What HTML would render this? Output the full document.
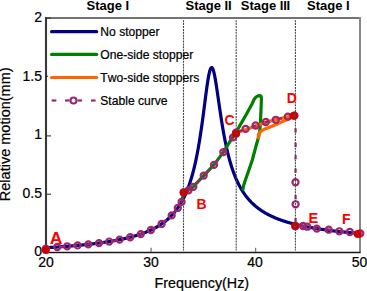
<!DOCTYPE html>
<html><head><meta charset="utf-8"><style>
html,body{margin:0;padding:0;background:#fff;width:367px;height:291px;overflow:hidden}
svg{display:block}
text{font-family:"Liberation Sans",sans-serif;font-kerning:none}
.t{stroke:#000;stroke-width:0.22px}
</style></head><body>
<svg width="367" height="291" viewBox="0 0 367 291">
<rect width="367" height="291" fill="#fff"/>
<line x1="46" y1="18" x2="361" y2="18" stroke="#737373" stroke-width="2"/>
<line x1="360" y1="17" x2="360" y2="253" stroke="#888" stroke-width="2"/>
<line x1="46" y1="17" x2="46" y2="253" stroke="#383838" stroke-width="2.1"/>
<line x1="45" y1="252.5" x2="360.5" y2="252.5" stroke="#1a1a1a" stroke-width="1.3"/>
<g fill="none" stroke-width="3.2" stroke-linejoin="round">
<polyline points="46.00,247.71 46.52,247.68 47.05,247.65 47.57,247.62 48.09,247.59 48.61,247.56 49.14,247.53 49.66,247.50 50.18,247.47 50.70,247.44 51.23,247.41 51.75,247.37 52.27,247.34 52.79,247.31 53.32,247.28 53.84,247.24 54.36,247.21 54.88,247.18 55.41,247.14 55.93,247.11 56.45,247.07 56.97,247.04 57.50,247.00 58.02,246.97 58.54,246.93 59.06,246.90 59.59,246.86 60.11,246.83 60.63,246.79 61.15,246.75 61.68,246.71 62.20,246.68 62.72,246.64 63.24,246.60 63.77,246.56 64.29,246.52 64.81,246.49 65.33,246.45 65.86,246.41 66.38,246.37 66.90,246.33 67.42,246.29 67.95,246.24 68.47,246.20 68.99,246.16 69.51,246.12 70.04,246.08 70.56,246.04 71.08,245.99 71.60,245.95 72.13,245.91 72.65,245.86 73.17,245.82 73.69,245.77 74.22,245.73 74.74,245.68 75.26,245.64 75.78,245.59 76.31,245.54 76.83,245.50 77.35,245.45 77.87,245.40 78.40,245.35 78.92,245.30 79.44,245.25 79.96,245.20 80.49,245.15 81.01,245.10 81.53,245.05 82.05,245.00 82.58,244.95 83.10,244.90 83.62,244.85 84.14,244.79 84.67,244.74 85.19,244.68 85.71,244.63 86.23,244.57 86.76,244.52 87.28,244.46 87.80,244.41 88.32,244.35 88.85,244.29 89.37,244.23 89.89,244.18 90.41,244.12 90.94,244.06 91.46,244.00 91.98,243.94 92.50,243.87 93.03,243.81 93.55,243.75 94.07,243.69 94.59,243.62 95.12,243.56 95.64,243.49 96.16,243.43 96.68,243.36 97.21,243.29 97.73,243.23 98.25,243.16 98.77,243.09 99.30,243.02 99.82,242.95 100.34,242.88 100.86,242.81 101.39,242.73 101.91,242.66 102.43,242.59 102.95,242.51 103.48,242.44 104.00,242.36 104.52,242.28 105.04,242.21 105.57,242.13 106.09,242.05 106.61,241.97 107.13,241.89 107.66,241.81 108.18,241.72 108.70,241.64 109.22,241.56 109.75,241.47 110.27,241.38 110.79,241.30 111.31,241.21 111.84,241.12 112.36,241.03 112.88,240.94 113.40,240.85 113.93,240.75 114.45,240.66 114.97,240.56 115.49,240.47 116.02,240.37 116.54,240.27 117.06,240.17 117.58,240.07 118.11,239.97 118.63,239.87 119.15,239.76 119.67,239.66 120.20,239.55 120.72,239.44 121.24,239.33 121.76,239.22 122.29,239.11 122.81,239.00 123.33,238.88 123.85,238.77 124.38,238.65 124.90,238.53 125.42,238.41 125.94,238.29 126.47,238.17 126.99,238.04 127.51,237.92 128.03,237.79 128.56,237.66 129.08,237.53 129.60,237.39 130.12,237.26 130.65,237.12 131.17,236.98 131.69,236.84 132.21,236.70 132.74,236.56 133.26,236.41 133.78,236.26 134.30,236.11 134.83,235.96 135.35,235.81 135.87,235.65 136.39,235.49 136.92,235.33 137.44,235.17 137.96,235.01 138.48,234.84 139.01,234.67 139.53,234.50 140.05,234.32 140.57,234.14 141.10,233.96 141.62,233.78 142.14,233.60 142.66,233.41 143.19,233.22 143.71,233.02 144.23,232.82 144.75,232.62 145.28,232.42 145.80,232.21 146.32,232.00 146.84,231.79 147.37,231.57 147.89,231.35 148.41,231.13 148.93,230.90 149.46,230.67 149.98,230.44 150.50,230.20 151.02,229.95 151.55,229.71 152.07,229.45 152.59,229.20 153.11,228.94 153.64,228.67 154.16,228.40 154.68,228.13 155.20,227.85 155.73,227.56 156.25,227.27 156.77,226.98 157.29,226.68 157.82,226.37 158.34,226.06 158.86,225.74 159.38,225.41 159.91,225.08 160.43,224.74 160.95,224.40 161.47,224.05 162.00,223.69 162.52,223.32 163.04,222.95 163.56,222.57 164.09,222.18 164.61,221.78 165.13,221.37 165.65,220.96 166.18,220.54 166.70,220.10 167.22,219.66 167.74,219.21 168.27,218.74 168.79,218.27 169.31,217.78 169.83,217.28 170.36,216.78 170.88,216.25 171.40,215.72 171.92,215.17 172.45,214.61 172.97,214.04 173.49,213.45 174.01,212.85 174.54,212.23 175.06,211.59 175.58,210.94 176.10,210.26 176.63,209.58 177.15,208.87 177.67,208.14 178.19,207.39 178.72,206.62 179.24,205.83 179.76,205.01 180.28,204.17 180.81,203.31 181.33,202.42 181.85,201.50 182.37,200.55 182.90,199.57 183.42,198.57 183.94,197.53 184.46,196.45 184.99,195.34 185.51,194.19 186.03,193.01 186.55,191.78 187.08,190.51 187.60,189.19 188.12,187.83 188.64,186.42 189.17,184.95 189.69,183.44 190.21,181.86 190.73,180.23 191.26,178.53 191.78,176.77 192.30,174.94 192.82,173.03 193.35,171.05 193.87,168.99 194.39,166.85 194.91,164.62 195.44,162.30 195.96,159.89 196.48,157.38 197.00,154.76 197.53,152.04 198.05,149.21 198.57,146.27 199.09,143.21 199.62,140.04 200.14,136.75 200.66,133.34 201.18,129.82 201.71,126.18 202.23,122.44 202.75,118.60 203.27,114.68 203.80,110.70 204.32,106.66 204.84,102.60 205.36,98.55 205.89,94.54 206.41,90.62 206.93,86.83 207.45,83.23 207.98,79.87 208.50,76.81 209.02,74.11 209.54,71.81 210.07,69.98 210.59,68.63 211.11,67.81 211.63,67.53 212.16,67.79 212.68,68.57 213.20,69.86 213.72,71.60 214.25,73.76 214.77,76.29 215.29,79.12 215.81,82.21 216.34,85.50 216.86,88.95 217.38,92.49 217.90,96.11 218.43,99.74 218.95,103.38 219.47,106.99 219.99,110.56 220.52,114.06 221.04,117.48 221.56,120.82 222.08,124.06 222.61,127.21 223.13,130.25 223.65,133.20 224.17,136.04 224.70,138.78 225.22,141.42 225.74,143.97 226.26,146.42 226.79,148.78 227.31,151.05 227.83,153.23 228.35,155.34 228.88,157.36 229.40,159.31 229.92,161.18 230.44,162.99 230.97,164.73 231.49,166.41 232.01,168.02 232.53,169.58 233.06,171.08 233.58,172.53 234.10,173.93 234.62,175.28 235.15,176.59 235.67,177.85 236.19,179.07 236.71,180.25 237.24,181.39 237.76,182.50 238.28,183.57 238.80,184.60 239.33,185.61 239.85,186.58 240.37,187.52 240.89,188.44 241.42,189.33 241.94,190.19 242.46,191.03 242.98,191.84 243.51,192.63 244.03,193.40 244.55,194.15 245.07,194.88 245.60,195.59 246.12,196.28 246.64,196.95 247.16,197.60 247.69,198.24 248.21,198.86 248.73,199.46 249.25,200.06 249.78,200.63 250.30,201.19 250.82,201.74 251.34,202.28 251.87,202.80 252.39,203.31 252.91,203.81 253.43,204.29 253.96,204.77 254.48,205.24 255.00,205.69 255.52,206.14 256.05,206.57 256.57,207.00 257.09,207.42 257.61,207.83 258.14,208.23 258.66,208.62 259.18,209.00 259.70,209.38 260.23,209.75 260.75,210.11 261.27,210.46 261.79,210.81 262.32,211.15 262.84,211.48 263.36,211.81 263.88,212.13 264.41,212.45 264.93,212.76 265.45,213.06 265.97,213.36 266.50,213.65 267.02,213.94 267.54,214.22 268.06,214.50 268.59,214.78 269.11,215.04 269.63,215.31 270.15,215.57 270.68,215.82 271.20,216.07 271.72,216.32 272.24,216.56 272.77,216.80 273.29,217.03 273.81,217.26 274.33,217.49 274.86,217.72 275.38,217.94 275.90,218.15 276.42,218.37 276.95,218.58 277.47,218.78 277.99,218.99 278.51,219.19 279.04,219.38 279.56,219.58 280.08,219.77 280.60,219.96 281.13,220.15 281.65,220.33 282.17,220.51 282.69,220.69 283.22,220.87 283.74,221.04 284.26,221.21 284.78,221.38 285.31,221.55 285.83,221.71 286.35,221.87 286.87,222.03 287.40,222.19 287.92,222.34 288.44,222.50 288.96,222.65 289.49,222.80 290.01,222.95 290.53,223.09 291.05,223.24 291.58,223.38 292.10,223.52 292.62,223.66 293.14,223.79 293.67,223.93 294.19,224.06 294.71,224.19 295.23,224.32 295.76,224.45 296.28,224.58 296.80,224.71 297.32,224.83 297.85,224.95 298.37,225.07 298.89,225.19 299.41,225.31 299.94,225.43 300.46,225.54 300.98,225.66 301.50,225.77 302.03,225.88 302.55,225.99 303.07,226.10 303.59,226.21 304.12,226.32 304.64,226.42 305.16,226.53 305.68,226.63 306.21,226.73 306.73,226.84 307.25,226.94 307.77,227.04 308.30,227.13 308.82,227.23 309.34,227.33 309.86,227.42 310.39,227.52 310.91,227.61 311.43,227.70 311.95,227.79 312.48,227.88 313.00,227.97 313.52,228.06 314.04,228.15 314.57,228.23 315.09,228.32 315.61,228.41 316.13,228.49 316.66,228.57 317.18,228.66 317.70,228.74 318.22,228.82 318.75,228.90 319.27,228.98 319.79,229.06 320.31,229.13 320.84,229.21 321.36,229.29 321.88,229.36 322.40,229.44 322.93,229.51 323.45,229.59 323.97,229.66 324.49,229.73 325.02,229.80 325.54,229.88 326.06,229.95 326.58,230.02 327.11,230.09 327.63,230.15 328.15,230.22 328.67,230.29 329.20,230.36 329.72,230.42 330.24,230.49 330.76,230.55 331.29,230.62 331.81,230.68 332.33,230.75 332.85,230.81 333.38,230.87 333.90,230.93 334.42,230.99 334.94,231.05 335.47,231.12 335.99,231.18 336.51,231.23 337.03,231.29 337.56,231.35 338.08,231.41 338.60,231.47 339.12,231.52 339.65,231.58 340.17,231.64 340.69,231.69 341.21,231.75 341.74,231.80 342.26,231.86 342.78,231.91 343.30,231.96 343.83,232.02 344.35,232.07 344.87,232.12 345.39,232.17 345.92,232.23 346.44,232.28 346.96,232.33 347.48,232.38 348.01,232.43 348.53,232.48 349.05,232.53 349.57,232.58 350.10,232.62 350.62,232.67 351.14,232.72 351.66,232.77 352.19,232.82 352.71,232.86 353.23,232.91 353.75,232.95 354.28,233.00 354.80,233.05 355.32,233.09 355.84,233.14 356.37,233.18 356.89,233.22 357.41,233.27 357.93,233.31 358.46,233.35 358.98,233.40 359.50,233.44" stroke="#000080"/>
<polyline points="182.00,201.23 183.60,192.40 188.50,190.20 193.30,186.70 203.70,175.60 214.00,164.90 223.30,152.10 232.40,137.60 236.10,133.30 238.10,128.70 240.40,124.60 246.40,114.30 252.00,104.00 254.00,99.60 256.00,97.00 258.00,95.80 260.00,95.60 261.20,96.60 261.40,99.00 261.00,110.00 260.30,125.00 259.60,132.00 258.70,136.80 256.30,145.00 252.30,160.00 248.90,170.00 245.40,180.00 243.60,185.50 242.70,190.50" stroke="#008000"/>
<polyline points="236.00,132.60 245.80,129.60 256.00,126.00 265.60,122.40 275.90,119.60 287.80,116.80 294.30,115.50" stroke="#FF6600"/>
<polyline points="294.30,115.50 289.80,118.50 284.30,120.80 277.50,123.90 270.60,126.80 263.70,129.60 260.60,131.40 258.60,134.00 258.10,139.00" stroke="#FF6600"/>
</g>
<polyline points="45.80,248.60 57.30,247.02 67.20,246.30 77.60,245.43 88.30,244.35 99.00,243.06 109.20,241.56 119.60,239.67 130.20,237.24 140.80,234.07 150.90,230.01 161.60,223.96 171.70,215.41 177.80,207.95 181.60,201.94 183.60,192.40 188.50,190.30 193.30,186.80 203.70,175.60 214.00,164.90 223.30,152.10 233.00,137.40 236.00,132.60 245.60,128.90 255.60,125.50 265.80,122.00 275.80,119.80 287.80,116.60 294.50,115.60" fill="none" stroke="#9E266C" stroke-width="2.2" stroke-dasharray="4.5 9"/>
<polyline points="295.50,226.00 303.05,226.00 307.30,226.70 316.80,228.60 328.70,229.70 339.30,231.30 349.80,232.00 360.30,233.40" fill="none" stroke="#9E266C" stroke-width="2.2" stroke-dasharray="4.5 9" stroke-dashoffset="-4"/>
<line x1="295.6" y1="128.4" x2="295.6" y2="132.5" stroke="#9E266C" stroke-width="2.2"/>
<line x1="295.6" y1="142.8" x2="295.6" y2="147" stroke="#9E266C" stroke-width="2.2"/>
<line x1="295.6" y1="155.2" x2="295.6" y2="159.3" stroke="#9E266C" stroke-width="2.2"/>
<line x1="295.6" y1="168.6" x2="295.6" y2="172.7" stroke="#9E266C" stroke-width="2.2"/>
<line x1="295.6" y1="195" x2="295.6" y2="199.4" stroke="#9E266C" stroke-width="2.2"/>
<line x1="295.6" y1="218" x2="295.6" y2="222" stroke="#9E266C" stroke-width="2.2"/>
<g fill="none" stroke="#9E266C" stroke-width="2.2"><circle cx="45.80" cy="248.60" r="3.05"/><circle cx="57.30" cy="247.02" r="3.05"/><circle cx="67.20" cy="246.30" r="3.05"/><circle cx="77.60" cy="245.43" r="3.05"/><circle cx="88.30" cy="244.35" r="3.05"/><circle cx="99.00" cy="243.06" r="3.05"/><circle cx="109.20" cy="241.56" r="3.05"/><circle cx="119.60" cy="239.67" r="3.05"/><circle cx="130.20" cy="237.24" r="3.05"/><circle cx="140.80" cy="234.07" r="3.05"/><circle cx="150.90" cy="230.01" r="3.05"/><circle cx="161.60" cy="223.96" r="3.05"/><circle cx="171.70" cy="215.41" r="3.05"/><circle cx="177.80" cy="207.95" r="3.05"/><circle cx="181.60" cy="201.94" r="3.05"/><circle cx="183.60" cy="192.40" r="3.05"/><circle cx="188.50" cy="190.30" r="3.05"/><circle cx="193.30" cy="186.80" r="3.05"/><circle cx="203.70" cy="175.60" r="3.05"/><circle cx="214.00" cy="164.90" r="3.05"/><circle cx="223.30" cy="152.10" r="3.05"/><circle cx="233.00" cy="137.40" r="3.05"/><circle cx="236.00" cy="132.60" r="3.05"/><circle cx="245.60" cy="128.90" r="3.05"/><circle cx="255.60" cy="125.50" r="3.05"/><circle cx="265.80" cy="122.00" r="3.05"/><circle cx="275.80" cy="119.80" r="3.05"/><circle cx="287.80" cy="116.60" r="3.05"/><circle cx="294.50" cy="115.60" r="3.05"/><circle cx="295.50" cy="182.20" r="3.05"/><circle cx="295.60" cy="204.30" r="3.05"/><circle cx="295.50" cy="226.00" r="3.05"/><circle cx="303.05" cy="226.00" r="3.05"/><circle cx="307.30" cy="226.70" r="3.05"/><circle cx="316.80" cy="228.60" r="3.05"/><circle cx="328.70" cy="229.70" r="3.05"/><circle cx="339.30" cy="231.30" r="3.05"/><circle cx="349.80" cy="232.00" r="3.05"/><circle cx="360.30" cy="233.40" r="3.05"/></g>
<g fill="none" stroke="#D00000" stroke-width="3.3"><circle cx="45.80" cy="250.00" r="2.35"/><circle cx="183.70" cy="192.40" r="2.35"/><circle cx="236.10" cy="133.80" r="2.35"/><circle cx="293.80" cy="115.80" r="2.35"/><circle cx="295.10" cy="226.00" r="2.35"/><circle cx="357.80" cy="234.00" r="2.35"/></g>
<line x1="183.5" y1="20.2" x2="183.5" y2="250.4" stroke="#474747" stroke-width="1.1" stroke-dasharray="2 0.9"/>
<line x1="236.2" y1="20.2" x2="236.2" y2="250.4" stroke="#474747" stroke-width="1.1" stroke-dasharray="2 0.9"/>
<line x1="295.4" y1="20.2" x2="295.4" y2="250.4" stroke="#474747" stroke-width="1.1" stroke-dasharray="2 0.9"/>
<line x1="151.10" y1="247.8" x2="151.10" y2="252" stroke="#777" stroke-width="1.3"/>
<line x1="255.60" y1="247.8" x2="255.60" y2="252" stroke="#777" stroke-width="1.3"/>
<line x1="46" y1="194.20" x2="51" y2="194.20" stroke="#333" stroke-width="1.1"/>
<line x1="46" y1="135.90" x2="51" y2="135.90" stroke="#333" stroke-width="1.1"/>
<line x1="46" y1="18.20" x2="51" y2="18.20" stroke="#333" stroke-width="1.1"/>
<line x1="46" y1="76.3" x2="48" y2="76.3" stroke="#222" stroke-width="1.1"/>
<line x1="51.6" y1="31.7" x2="96.7" y2="31.7" stroke="#000080" stroke-width="3.2" stroke-linecap="round"/>
<line x1="51.6" y1="54.4" x2="96.7" y2="54.4" stroke="#008000" stroke-width="3.2" stroke-linecap="round"/>
<line x1="51.6" y1="77.5" x2="96.7" y2="77.5" stroke="#FF6600" stroke-width="3.2" stroke-linecap="round"/>
<line x1="51.6" y1="100.5" x2="56.4" y2="100.5" stroke="#9E266C" stroke-width="2.2"/>
<line x1="65.1" y1="100.5" x2="69.6" y2="100.5" stroke="#9E266C" stroke-width="2.2"/>
<line x1="77.6" y1="100.5" x2="82.1" y2="100.5" stroke="#9E266C" stroke-width="2.2"/>
<line x1="91.0" y1="100.5" x2="95.6" y2="100.5" stroke="#9E266C" stroke-width="2.2"/>
<circle cx="73.5" cy="100.5" r="3.0" fill="none" stroke="#9E266C" stroke-width="2.1"/>
<text x="100.3" y="35.8" font-family="Liberation Sans, sans-serif" font-size="12.12" fill="#000" class="t">No stopper</text>
<text x="100.3" y="58.5" font-family="Liberation Sans, sans-serif" font-size="12.12" fill="#000" class="t">One-side stopper</text>
<text x="100.3" y="81.6" font-family="Liberation Sans, sans-serif" font-size="12.12" fill="#000" class="t">Two-side stoppers</text>
<text x="100.3" y="104.6" font-family="Liberation Sans, sans-serif" font-size="12.12" fill="#000" class="t">Stable curve</text>
<text x="86.5" y="9.8" font-family="Liberation Sans, sans-serif" font-size="13" font-weight="bold" fill="#000">Stage I</text>
<text x="185.5" y="9.8" font-family="Liberation Sans, sans-serif" font-size="13" font-weight="bold" fill="#000">Stage II</text>
<text x="240.8" y="9.8" font-family="Liberation Sans, sans-serif" font-size="13" font-weight="bold" fill="#000">Stage I<tspan dx="-0.3">I</tspan><tspan dx="-0.3">I</tspan></text>
<text x="307.0" y="9.8" font-family="Liberation Sans, sans-serif" font-size="13" font-weight="bold" fill="#000">Stage I</text>
<text x="46.00" y="267.0" font-family="Liberation Sans, sans-serif" font-size="14" text-anchor="middle" fill="#000" class="t">20</text>
<text x="151.02" y="267.0" font-family="Liberation Sans, sans-serif" font-size="14" text-anchor="middle" fill="#000" class="t">30</text>
<text x="255.00" y="267.0" font-family="Liberation Sans, sans-serif" font-size="14" text-anchor="middle" fill="#000" class="t">40</text>
<text x="359.50" y="267.0" font-family="Liberation Sans, sans-serif" font-size="14" text-anchor="middle" fill="#000" class="t">50</text>
<text x="42" y="256.15" font-family="Liberation Sans, sans-serif" font-size="14" text-anchor="end" fill="#000" class="t">0</text>
<text x="42" y="197.65" font-family="Liberation Sans, sans-serif" font-size="14" text-anchor="end" fill="#000" class="t">0.5</text>
<text x="42" y="139.15" font-family="Liberation Sans, sans-serif" font-size="14" text-anchor="end" fill="#000" class="t">1</text>
<text x="42" y="80.65" font-family="Liberation Sans, sans-serif" font-size="14" text-anchor="end" fill="#000" class="t">1.5</text>
<text x="42" y="22.15" font-family="Liberation Sans, sans-serif" font-size="14" text-anchor="end" fill="#000" class="t">2</text>
<text x="201.8" y="287.5" font-family="Liberation Sans, sans-serif" font-size="14.3" text-anchor="middle" fill="#000" class="t">Frequency(Hz)</text>
<text transform="translate(10.4,134.3) rotate(-90)" font-family="Liberation Sans, sans-serif" font-size="14.5" text-anchor="middle" fill="#000" class="t">Relative motion(mm)</text>
<text transform="translate(49.7,243.7) scale(1.035,1)" font-family="Liberation Sans, sans-serif" font-size="17" font-weight="bold" fill="#FF0000">A</text>
<text x="196.6" y="209.3" font-family="Liberation Sans, sans-serif" font-size="14" font-weight="bold" fill="#FF0000">B</text>
<text x="224.6" y="124.8" font-family="Liberation Sans, sans-serif" font-size="14" font-weight="bold" fill="#FF0000">C</text>
<text x="286.8" y="103.3" font-family="Liberation Sans, sans-serif" font-size="14" font-weight="bold" fill="#FF0000">D</text>
<text x="308.6" y="223.4" font-family="Liberation Sans, sans-serif" font-size="14.5" font-weight="bold" fill="#FF0000">E</text>
<text x="342.0" y="224.2" font-family="Liberation Sans, sans-serif" font-size="14" font-weight="bold" fill="#FF0000">F</text>
</svg>
</body></html>
